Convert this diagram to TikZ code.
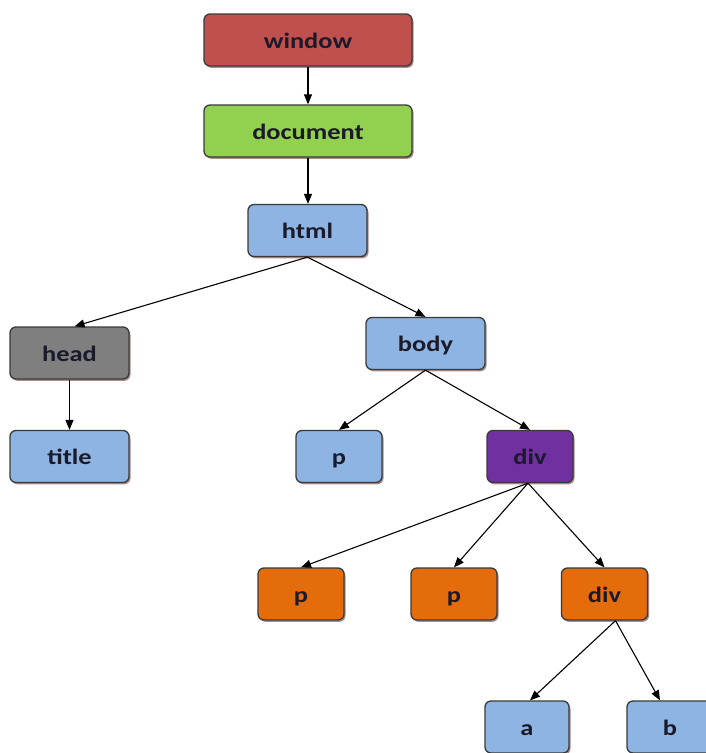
\documentclass[tikz,border=0pt]{standalone}
\usepackage{fontspec}
\setmainfont{Carlito}[FakeStretch=1.2]
\usetikzlibrary{shadows,arrows.meta,calc}
\definecolor{cred}{HTML}{C0504D}
\definecolor{cgreen}{HTML}{92D050}
\definecolor{cblue}{HTML}{8DB4E2}
\definecolor{cgray}{HTML}{7F7F7F}
\definecolor{cpurple}{HTML}{7030A0}
\definecolor{corange}{HTML}{E46C0A}
\definecolor{cborder}{HTML}{3A3A3A}
\definecolor{ctext}{HTML}{1A1A2A}
\tikzset{
  box/.style={draw=cborder, line width=1.3pt, rounded corners=6pt,
    minimum height=52pt, inner sep=0pt, anchor=center,
    text height=20pt, text depth=4pt,
    font=\fontsize{22}{26}\selectfont\bfseries, text=ctext,
    drop shadow={shadow xshift=1.5pt, shadow yshift=-1.8pt, opacity=0.45, fill=black!70!red}},
  wide/.style={box, minimum width=208pt},
  mid/.style={box, minimum width=119pt},
  small/.style={box, minimum width=86pt},
  conn/.style={draw=black, line width=1.1pt, -{Triangle[length=10pt,width=8pt]}}
}
\begin{document}
\begin{tikzpicture}[x=1pt,y=-1pt]
\useasboundingbox (0,0) rectangle (706,753);
\node[wide, fill=cred] (window) at (308,40) {window};
\node[wide, fill=cgreen] (document) at (308,131) {document};
\node[mid, fill=cblue] (html) at (307.5,230.5) {html};
\node[mid, fill=cgray] (head) at (69.5,353) {head};
\node[mid, fill=cblue] (body) at (425.5,343.5) {body};
\node[mid, fill=cblue] (title) at (69.5,456.5) {title};
\node[small, fill=cblue] (p1) at (339,456.5) {p};
\node[small, fill=cpurple] (div1) at (530,456.5) {div};
\node[small, fill=corange] (p2) at (301,594) {p};
\node[small, fill=corange] (p3) at (454,594) {p};
\node[small, fill=corange] (div2) at (604.5,594) {div};
\node[small, minimum width=84pt, fill=cblue] (a) at (527,727) {a};
\node[small, fill=cblue] (b) at (670,727) {b};
\coordinate (d2s) at ($(div2.south)+(11,0)$);
\coordinate (d1s) at ($(div1.south)+(-2,0)$);
\coordinate (doc) at ($(document.south)+(0,0)$);
\draw[conn] (window.south) -- (document.north);
\draw[conn] (doc) -- (doc |- html.north);
\draw[conn] (html.south) -- ($(head.north)+(5,0)$);
\draw[conn] (html.south) -- (body.north);
\draw[conn] (head.south) -- (title.north);
\draw[conn] (body.south) -- (p1.north);
\draw[conn] (body.south) -- (div1.north);
\draw[conn] (d1s) -- (p2.north);
\draw[conn] (d1s) -- (p3.north);
\draw[conn] (d1s) -- (div2.north);
\draw[conn] (d2s) -- ($(a.north)+(3,0)$);
\draw[conn] (d2s) -- ($(b.north)+(-10,0)$);
\end{tikzpicture}
\end{document}
